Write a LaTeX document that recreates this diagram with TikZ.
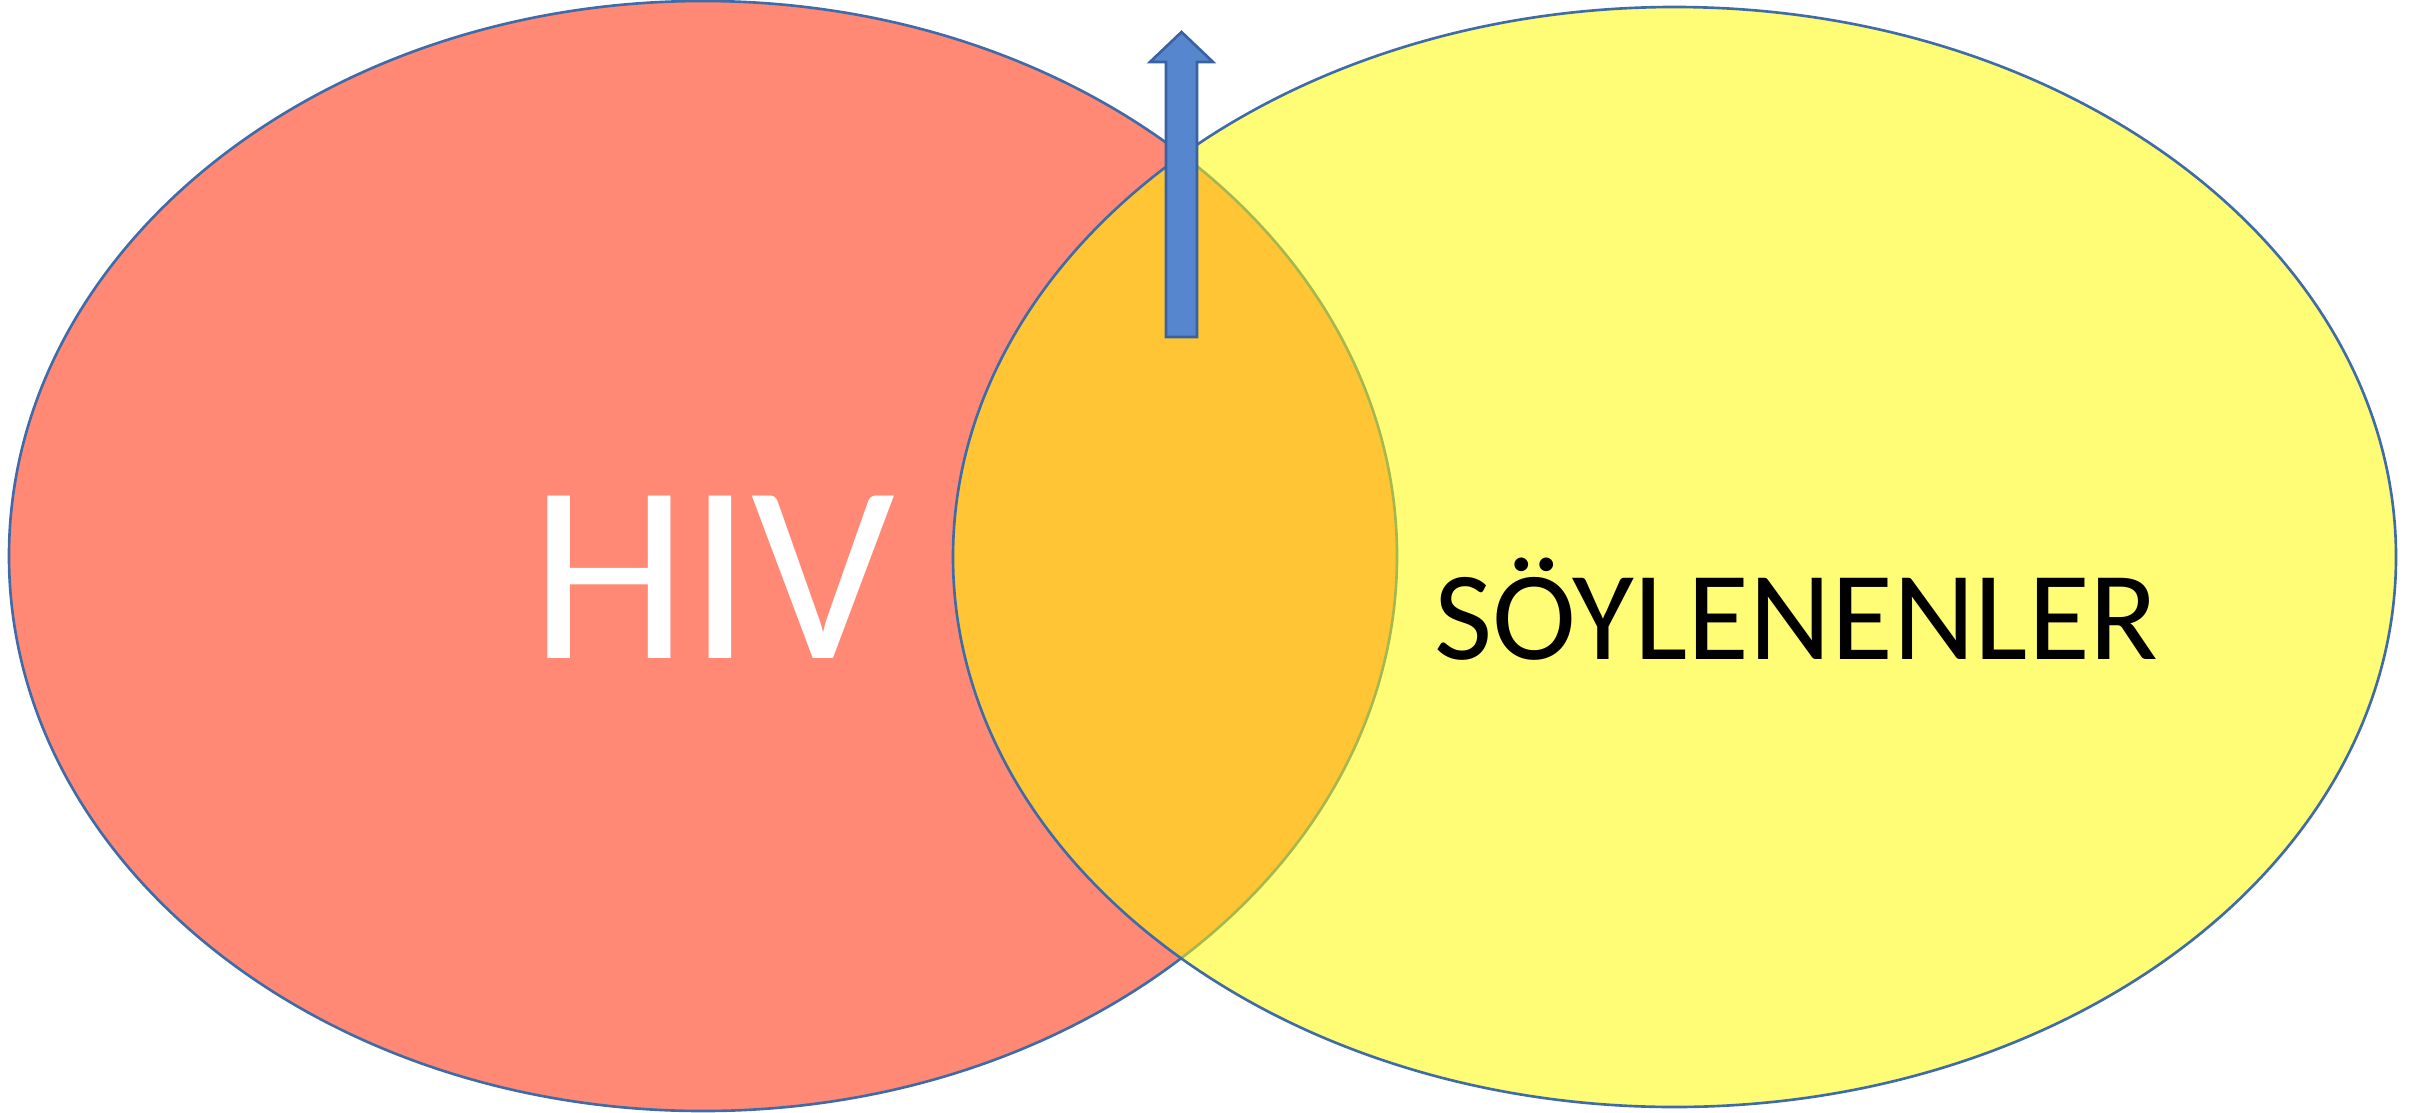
\documentclass[tikz,border=0pt]{standalone}
\usepackage{fontspec}
\setmainfont{Carlito}
\definecolor{redfill}{RGB}{255,137,116}
\definecolor{yelfill}{RGB}{255,249,0}
\definecolor{outl}{RGB}{63,108,168}
\definecolor{arrfill}{RGB}{85,134,206}
\definecolor{arrline}{RGB}{58,98,160}
\tikzset{
  setline/.style={draw=outl, line width=0.75pt},
  leftset/.style={setline, fill=redfill},
  rightset/.style={setline, fill=yelfill, fill opacity=0.54, draw opacity=1},
  bigarrow/.style={fill=arrfill, draw=arrline, line width=0.75pt, line join=miter},
  bigtxt/.style={font=\fontsize{72}{86}\selectfont, text=white, inner sep=0pt, anchor=base},
  smalltxt/.style={font=\fontsize{36}{43}\selectfont, text=black, inner sep=0pt, anchor=base}
}
\begin{document}
\begin{tikzpicture}[x=0.01cm,y=-0.01cm]
\useasboundingbox (0,0) rectangle (2418,1112);
% left set
\path[leftset] (703,556) ellipse [x radius=694, y radius=555];
% right set (semi-transparent yellow over red gives the orange overlap)
\path[rightset] (1674.5,557) ellipse [x radius=721.5, y radius=550];
% upward block arrow
\coordinate (tip) at (1181.5,32);
\path[bigarrow] (1166,337) -- (1166,62) -- (1150,62) -- (tip) -- (1213,62) -- (1197,62) -- (1197,337) -- cycle;
% labels
\node[bigtxt] (hiv) at (713,658) {HIV};
\node[smalltxt] (soy) at (1796.5,659) {SÖYLENENLER};
\end{tikzpicture}
\end{document}
